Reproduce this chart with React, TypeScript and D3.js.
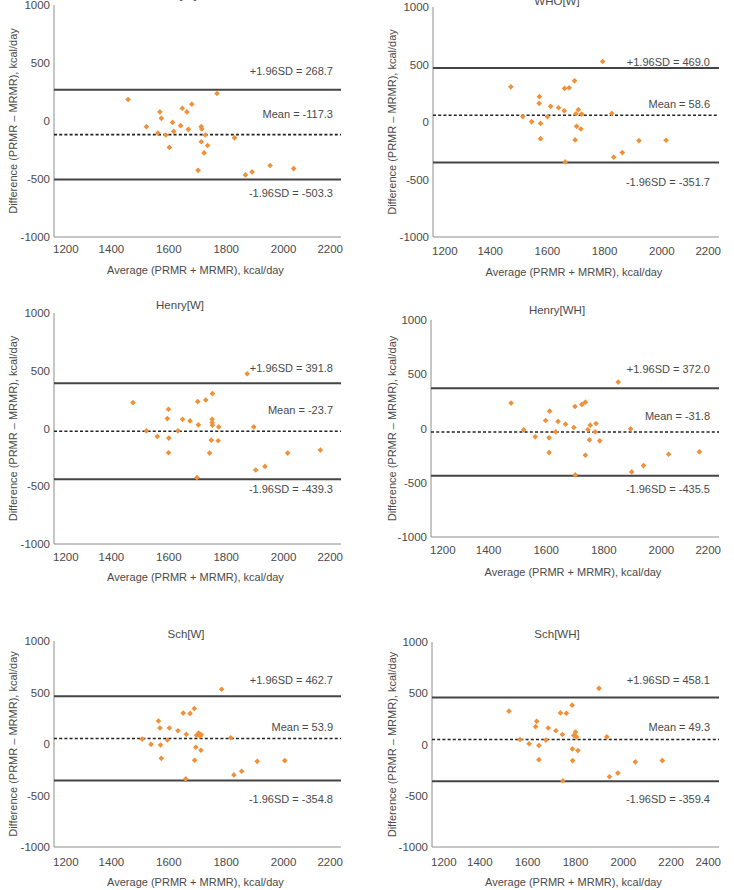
import React from "react";
import * as d3 from "d3";

// Bland–Altman plots: difference vs. average of predicted (PRMR) and measured (MRMR) RMR
const titles = ["HB[W]", "WHO[W]", "Henry[W]", "Henry[WH]", "Sch[W]", "Sch[WH]"];
const xMaxes = [2200, 2200, 2200, 2200, 2200, 2400];
const upperSD = [268.7, 469.0, 391.8, 372.0, 462.7, 458.1];
const meanDiff = [-117.3, 58.6, -23.7, -31.8, 53.9, 49.3];
const lowerSD = [-503.3, -351.7, -439.3, -435.5, -354.8, -359.4];
const yTicks = [-1000, -500, 0, 500, 1000];

const avgHBW = [1458, 1522, 1562, 1569, 1574, 1590, 1602, 1613, 1617, 1641, 1647, 1663, 1668, 1680, 1702, 1713, 1713, 1715, 1723, 1727, 1735, 1768, 1829, 1867, 1890, 1953, 2035];
const diffHBW = [185, -49, -104, 78, 23, -121, -228, -12, -90, -40, 110, 78, -72, 145, -425, -49, -179, -69, -275, -121, -211, 237, -145, -465, -439, -384, -410];

const avgWHOW = [1472, 1514, 1545, 1572, 1571, 1576, 1576, 1600, 1611, 1639, 1659, 1660, 1662, 1676, 1695, 1697, 1700, 1702, 1708, 1717, 1720, 1793, 1825, 1832, 1862, 1920, 2015];
const diffWHOW = [306, 46, 3, 220, 162, -12, -145, 46, 136, 124, 98, 292, -347, 298, 358, -156, 72, -38, 107, -61, 69, 526, 75, -306, -266, -162, -159];

const avgHenryW = [1475, 1522, 1560, 1595, 1599, 1600, 1599, 1632, 1648, 1674, 1701, 1703, 1698, 1729, 1742, 1752, 1751, 1751, 1752, 1748, 1774, 1772, 1873, 1896, 1903, 1935, 2014, 2128];
const diffHenryW = [224, -20, -69, 86, 167, -83, -210, -20, 80, 66, 233, 32, -425, 247, -213, 302, 80, 52, 29, -101, 14, -106, 474, 14, -359, -328, -213, -187];

const avgHenryWH = [1478, 1522, 1562, 1598, 1612, 1610, 1610, 1633, 1641, 1667, 1696, 1700, 1701, 1724, 1736, 1736, 1745, 1753, 1750, 1770, 1773, 1786, 1850, 1893, 1897, 1938, 2025, 2132];
const diffHenryWH = [234, -12, -77, 74, 160, -86, -222, -31, 65, 40, 9, 203, -428, 222, 243, -246, -12, 31, -105, -31, 46, -114, 428, -3, -400, -342, -237, -215];

const avgSchW = [1507, 1538, 1564, 1569, 1571, 1574, 1595, 1602, 1632, 1650, 1661, 1659, 1674, 1689, 1690, 1694, 1697, 1704, 1709, 1713, 1712, 1784, 1816, 1827, 1854, 1908, 2004];
const diffSchW = [48, -3, 223, 155, -10, -139, 39, 155, 129, 300, 94, -339, 297, 345, -158, -32, 84, 106, 77, 90, -61, 532, 61, -300, -265, -168, -161];

const avgSchWH = [1522, 1568, 1606, 1633, 1638, 1647, 1647, 1676, 1686, 1718, 1737, 1745, 1747, 1762, 1786, 1787, 1788, 1793, 1800, 1804, 1810, 1898, 1931, 1942, 1977, 2050, 2163];
const diffSchWH = [325, 49, 7, 174, 226, -10, -148, 43, 161, 134, 308, 98, -354, 305, 384, -43, -157, 89, 121, 75, -59, 548, 75, -315, -279, -170, -157];

const averages = [avgHBW, avgWHOW, avgHenryW, avgHenryWH, avgSchW, avgSchWH];
const differences = [diffHBW, diffWHOW, diffHenryW, diffHenryWH, diffSchW, diffSchWH];

// Pixel layout of each panel
const layout = [
  { left: 54, right: 341, top: 5, bottom: 237, titleX: 180, titleY: -1, yTitleX: 13, tickY: 253, xTitleY: 274, labelRight: 333, upY: 75, meanY: 118, lowY: 197 },
  { left: 433, right: 719, top: 7, bottom: 237, titleX: 557, titleY: 4.5, yTitleX: 392, tickY: 255, xTitleY: 276, labelRight: 710, upY: 66, meanY: 108, lowY: 186 },
  { left: 54, right: 341, top: 313, bottom: 544, titleX: 180, titleY: 309, yTitleX: 13, tickY: 561, xTitleY: 581, labelRight: 333, upY: 372, meanY: 413.5, lowY: 492.5 },
  { left: 431, right: 719, top: 320, bottom: 537, titleX: 557, titleY: 314, yTitleX: 392, tickY: 554, xTitleY: 576, labelRight: 710, upY: 373, meanY: 420, lowY: 492.5 },
  { left: 54, right: 341, top: 641, bottom: 847, titleX: 186, titleY: 637.5, yTitleX: 13, tickY: 866, xTitleY: 886, labelRight: 333, upY: 684, meanY: 731, lowY: 802.5 },
  { left: 432, right: 719, top: 642, bottom: 847, titleX: 557, titleY: 637.5, yTitleX: 392, tickY: 866, xTitleY: 886, labelRight: 710, upY: 684, meanY: 731, lowY: 802.5 },
];

const FONT = "'Liberation Sans', Arial, sans-serif";
const TEXT = "#4a4a4a";
const ORANGE = "#f0913a";
const marker = d3.symbol(d3.symbolSquare, 16)();

const fmt = (v: number) => v.toFixed(1);

function Panel({ i }: { i: number }) {
  const L = layout[i];
  const x = d3.scaleLinear().domain([1200, xMaxes[i]]).range([L.left, L.right]);
  const y = d3.scaleLinear().domain([-1000, 1000]).range([L.bottom, L.top]);
  const xTicks = d3.range(1200, xMaxes[i] + 1, 200);
  const pts = averages[i].map((a, k) => [a, differences[i][k]]);
  const midY = (L.top + L.bottom) / 2;
  return (
    <g fontFamily={FONT} fill={TEXT}>
      <text x={L.titleX} y={L.titleY} textAnchor="middle" fontSize={11.5}>{titles[i]}</text>
      {/* axes */}
      <line x1={L.left} x2={L.left} y1={L.top} y2={L.bottom} stroke="#8c8c8c" strokeWidth={1} />
      <line x1={L.left} x2={L.right} y1={L.bottom} y2={L.bottom} stroke="#8c8c8c" strokeWidth={1} />
      {yTicks.map((t) => (
        <text key={t} x={L.left - 4} y={y(t)} dy="0.36em" textAnchor="end" fontSize={11.5}>{t}</text>
      ))}
      {xTicks.map((t, k) => {
        const first = k === 0;
        const last = k === xTicks.length - 1;
        return (
          <text key={t} x={first ? x(t) - 1 : last ? x(t) + 2 : x(t)} y={L.tickY}
            textAnchor={first ? "start" : last ? "end" : "middle"} fontSize={11.5}>{t}</text>
        );
      })}
      <text x={(L.left + L.right) / 2 - 2} y={L.xTitleY} textAnchor="middle" fontSize={11}>Average (PRMR + MRMR), kcal/day</text>
      <text transform={`translate(${L.yTitleX},${midY}) rotate(-90)`} dy="0.36em" textAnchor="middle" fontSize={11}>Difference (PRMR – MRMR), kcal/day</text>
      {/* limits of agreement and mean difference */}
      <line x1={L.left} x2={L.right} y1={y(upperSD[i])} y2={y(upperSD[i])} stroke="#444" strokeWidth={2} />
      <line x1={L.left} x2={L.right} y1={y(lowerSD[i])} y2={y(lowerSD[i])} stroke="#444" strokeWidth={2} />
      <line x1={L.left} x2={L.right} y1={y(meanDiff[i])} y2={y(meanDiff[i])} stroke="#222" strokeWidth={1.6} strokeDasharray="3,2.2" />
      <text x={L.labelRight} y={L.upY} textAnchor="end" fontSize={11}>{`+1.96SD = ${fmt(upperSD[i])}`}</text>
      <text x={L.labelRight} y={L.meanY} textAnchor="end" fontSize={11}>{`Mean = ${fmt(meanDiff[i])}`}</text>
      <text x={L.labelRight} y={L.lowY} textAnchor="end" fontSize={11}>{`-1.96SD = ${fmt(lowerSD[i])}`}</text>
      {pts.map(([a, d], k) => (
        <path key={k} d={marker!} transform={`translate(${x(a)},${y(d)}) rotate(45)`} fill={ORANGE} />
      ))}
    </g>
  );
}

export default function App() {
  return (
    <svg width={734} height={890} style={{ position: "absolute", left: 0, top: 0, background: "#fff" }}>
      <rect width={734} height={890} fill="#fff" />
      {titles.map((_, i) => <Panel key={i} i={i} />)}
    </svg>
  );
}
